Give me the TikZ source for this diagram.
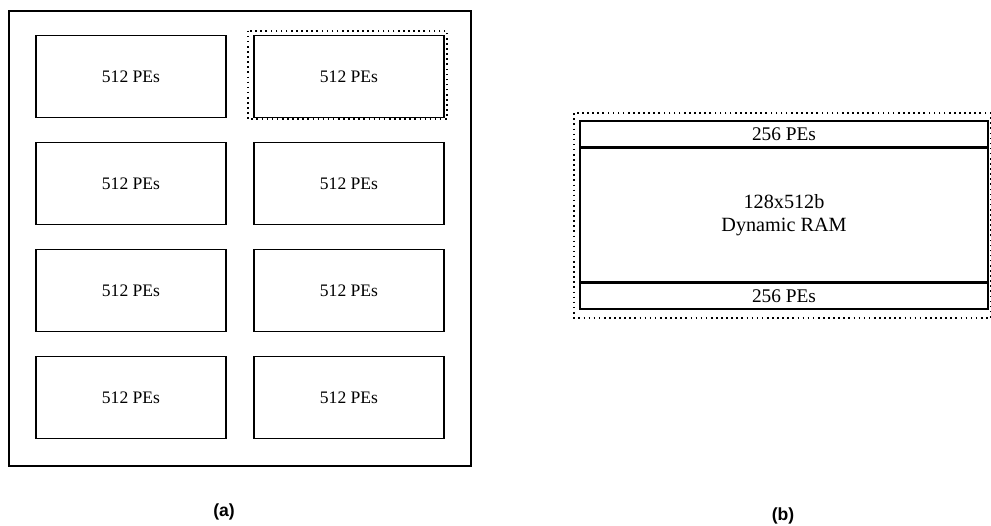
\documentclass[tikz,border=0pt]{standalone}
\usepackage{fontspec}
\setmainfont{Liberation Serif}
\newfontfamily\capfont{Liberation Sans}
\usepackage{tikz}
\usetikzlibrary{positioning, calc}

\begin{document}
\begin{tikzpicture}[
    x=0.02cm, y=-0.02cm,
    pebox/.style={
        draw, line width=0.9pt, minimum width=3.8cm, minimum height=1.64cm,
        inner sep=0pt, font=\fontsize{10}{11}\selectfont
    },
    bandbox/.style={
        draw, line width=0.9pt, minimum width=8.16cm, minimum height=0.52cm,
        inner sep=0pt, font=\fontsize{11}{12}\selectfont
    },
    chipbox/.style={draw, line width=1pt, inner sep=0pt},
    dotbox/.style={draw, dotted, line width=0.9pt},
    caption/.style={font=\capfont\bfseries\fontsize{10}{12}\selectfont}
]
    \useasboundingbox (0,0) rectangle (991,525);

    % (a) chip with eight blocks
    \node[chipbox, minimum width=9.24cm, minimum height=9.1cm] (chip) at (240,238.5) {};
    \foreach \r in {1,...,4} {
        \node[pebox] (pe-\r-1) at (131,{76.5+107*(\r-1)}) {512 PEs};
        \node[pebox] (pe-\r-2) at (349,{76.5+107*(\r-1)}) {512 PEs};
    }
    \draw[dotbox] ($(pe-1-2.north west)+(-5,-4)$) rectangle ($(pe-1-2.south east)+(2,1)$);

    % (b) one block in detail
    \node[bandbox] (top) at (784,134) {256 PEs};
    \node[bandbox, minimum height=2.66cm, below=0pt of top, align=center,
          font=\fontsize{11.5}{13}\selectfont] (ram) {128x512b\\Dynamic RAM};
    \node[bandbox, below=0pt of ram] (bot) {256 PEs};
    \draw[dotbox] ($(top.north west)+(-5,-7)$) rectangle ($(bot.south east)+(2,8)$);

    \node[caption] (capa) at (224,512) {(a)};
    \node[caption] (capb) at (783,516) {(b)};
\end{tikzpicture}
\end{document}
